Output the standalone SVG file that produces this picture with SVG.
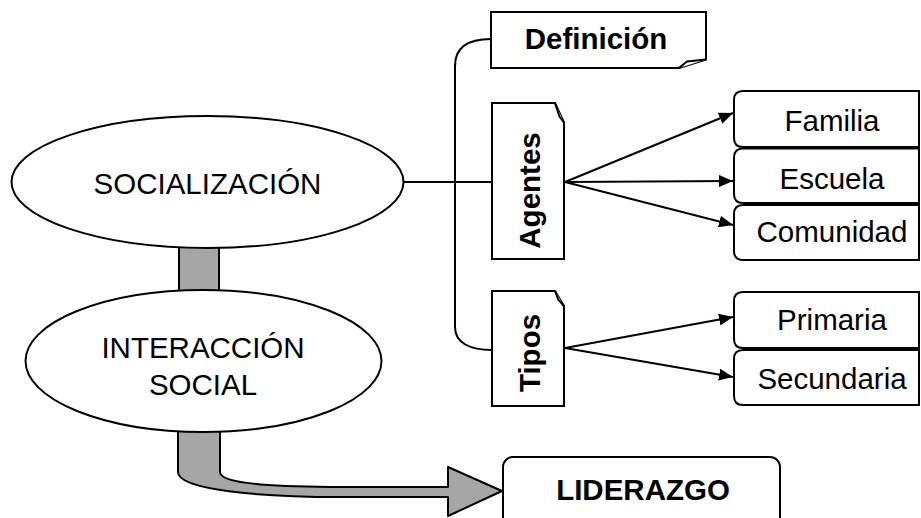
<svg xmlns="http://www.w3.org/2000/svg" width="921" height="518" viewBox="0 0 921 518">
<style>
text{font-family:"Liberation Sans",Arial,sans-serif;font-size:29.5px;fill:#000}
.b{font-weight:bold}
.box{fill:#fff;stroke:#000;stroke-width:2}
.ln{fill:none;stroke:#000;stroke-width:2}
.blk{fill:#a6a6a6;stroke:#000;stroke-width:2;stroke-linejoin:round}
</style>
<defs>
<marker id="ah" viewBox="0 0 14 12" refX="14" refY="6" markerWidth="14" markerHeight="12" markerUnits="userSpaceOnUse" orient="auto">
<path d="M0,0 L14,6 L0,12 Z" fill="#000"/>
</marker>
</defs>
<rect width="921" height="518" fill="#fff"/>
<g id="connectors">
<rect class="blk" x="179" y="240" width="40" height="60"/>
<path class="blk" d="M178,420 L178,472 C178,490 260,497 340,497 L448,497 L448,516 L502,491 L448,467 L448,487 L330,487 C255,486 220,482 220,472 L220,420 Z"/>
<path class="ln" d="M403,182 L492,182"/>
<path class="ln" d="M491,39 C470,39 455,46 455,66 L455,327 C455,343 470,350 492,350"/>
<g class="ln" marker-end="url(#ah)">
<path class="ln" d="M565,182 L733,113" marker-end="url(#ah)"/>
<path class="ln" d="M565,182 L733,181" marker-end="url(#ah)"/>
<path class="ln" d="M565,182 L733,225" marker-end="url(#ah)"/>
<path class="ln" d="M565,348 L733,317" marker-end="url(#ah)"/>
<path class="ln" d="M565,348 L733,377" marker-end="url(#ah)"/>
</g>
</g>
<g id="socializacion">
<ellipse class="box" cx="207.5" cy="182" rx="196" ry="66"/>
<text x="207.5" y="194" text-anchor="middle">SOCIALIZACIÓN</text>
</g>
<g id="interaccion">
<ellipse class="box" cx="203.5" cy="361" rx="178" ry="71"/>
<text x="203" y="358" text-anchor="middle">INTERACCIÓN</text>
<text x="203" y="395" text-anchor="middle">SOCIAL</text>
</g>
<g id="definicion">
<path class="box" d="M491,12 L706,12 L706,59.5 L679,68 L491,68 Z"/>
<path class="box" d="M679,68 L687,61.5 L706,59.5"/>
<text class="b" x="596" y="49" text-anchor="middle">Definición</text>
</g>
<g id="agentes">
<path class="box" d="M492,103 L555,103 L564,122.5 L564,259 L492,259 Z"/>
<path class="box" d="M555,103 L559.5,116.5 L564,122.5"/>
<text class="b" transform="translate(540,190.5) rotate(-90)" text-anchor="middle">Agentes</text>
</g>
<g id="tipos">
<path class="box" d="M492,291 L555,291 L564,306 L564,406 L492,406 Z"/>
<path class="box" d="M555,291 L558.5,300 L564,306"/>
<text class="b" transform="translate(540,353) rotate(-90)" text-anchor="middle">Tipos</text>
</g>
<g id="familia">
<path class="box" d="M743,91 L919,91 L919,147 L743,147 Q734,147 734,138 L734,100 Q734,91 743,91 Z"/>
<text x="832" y="131" text-anchor="middle">Familia</text>
</g>
<g id="escuela">
<path class="box" d="M743,148.5 L919,148.5 L919,203 L743,203 Q734,203 734,194 L734,157.5 Q734,148.5 743,148.5 Z"/>
<text x="832" y="188.5" text-anchor="middle">Escuela</text>
</g>
<g id="comunidad">
<path class="box" d="M743,205 L919,205 L919,260 L743,260 Q734,260 734,251 L734,214 Q734,205 743,205 Z"/>
<text x="832" y="242" text-anchor="middle">Comunidad</text>
</g>
<g id="primaria">
<path class="box" d="M743,292 L919,292 L919,348 L743,348 Q734,348 734,339 L734,301 Q734,292 743,292 Z"/>
<text x="832" y="330" text-anchor="middle">Primaria</text>
</g>
<g id="secundaria">
<path class="box" d="M743,350 L919,350 L919,405 L743,405 Q734,405 734,396 L734,359 Q734,350 743,350 Z"/>
<text x="832" y="388.5" text-anchor="middle">Secundaria</text>
</g>
<g id="liderazgo">
<rect class="box" x="503" y="457" width="277" height="80" rx="10"/>
<text class="b" x="643" y="500" text-anchor="middle">LIDERAZGO</text>
</g>
</svg>
